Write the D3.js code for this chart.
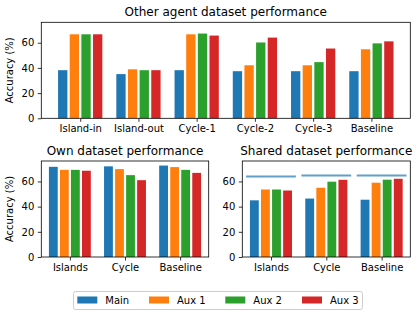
<!DOCTYPE html>
<html><head><meta charset="utf-8">
<script src="https://cdn.jsdelivr.net/npm/d3@7"></script>
<style>body{margin:0;background:#fff}svg{display:block;font-family:"DejaVu Sans",sans-serif}</style>
</head><body><svg id="c" width="419" height="316"></svg>
<script>
const seriesNames = ["Main", "Aux 1", "Aux 2", "Aux 3"];
const colors = ["#1f77b4", "#ff7f0e", "#2ca02c", "#d62728"];
const yTicks = [0, 20, 40, 60];

const otherCats = ["Island-in", "Island-out", "Cycle-1", "Cycle-2", "Cycle-3", "Baseline"];
const otherMain = [38.2, 35.1, 38.2, 37.4, 37.4, 37.4];
const otherAux1 = [66.7, 38.9, 66.7, 42.1, 42.1, 54.8];
const otherAux2 = [66.7, 38.2, 67.3, 60.2, 44.6, 59.5];
const otherAux3 = [66.7, 38.2, 65.7, 64.1, 55.4, 61.1];

const smallCats = ["Islands", "Cycle", "Baseline"];
const ownMain = [71.6, 72.0, 72.6];
const ownAux1 = [69.2, 69.8, 71.4];
const ownAux2 = [69.2, 65.0, 69.2];
const ownAux3 = [68.5, 61.0, 66.8];

const sharedMain = [45.0, 46.4, 45.5];
const sharedAux1 = [53.6, 55.0, 59.0];
const sharedAux2 = [53.6, 59.8, 61.4];
const sharedAux3 = [52.8, 61.3, 62.1];
const sharedRef = [64.0, 64.8, 64.8];

const svg = d3.select("#c");
const allVals = [].concat(otherMain, otherAux1, otherAux2, otherAux3, ownMain, ownAux1, ownAux2, ownAux3,
  sharedMain, sharedAux1, sharedAux2, sharedAux3, sharedRef);
const yMax = d3.max(allVals) * 1.05;

function panel(opt) {
  const {x0, x1, y0, y1, cats, series, title, ylabel, ref} = opt;
  const n = cats.length;
  const lo = -0.38, hi = n - 1 + 0.38, m = (hi - lo) * 0.05;
  const x = d3.scaleLinear().domain([lo - m, hi + m]).range([x0, x1]);
  const y = d3.scaleLinear().domain([0, yMax]).range([y1, y0]);
  const g = svg.append("g");
  const bw = 0.16, offs = [-0.3, -0.1, 0.1, 0.3];
  series.forEach((vals, si) => {
    g.selectAll(null).data(vals).enter().append("rect")
      .attr("x", (d, i) => x(i + offs[si] - bw / 2))
      .attr("width", (d, i) => x(i + offs[si] + bw / 2) - x(i + offs[si] - bw / 2))
      .attr("y", d => y(d))
      .attr("height", d => y(0) - y(d))
      .attr("fill", colors[si]);
  });
  if (ref) {
    g.selectAll(null).data(ref).enter().append("line")
      .attr("x1", (d, i) => x(i - 0.45)).attr("x2", (d, i) => x(i + 0.45))
      .attr("y1", d => y(d)).attr("y2", d => y(d))
      .attr("stroke", "#1f77b4").attr("stroke-opacity", 0.7).attr("stroke-width", 2);
  }
  const xa = d3.axisBottom(x).tickValues(d3.range(n)).tickFormat(i => cats[i]).tickSize(3.5).tickPadding(3.5);
  const ya = d3.axisLeft(y).tickValues(yTicks).tickSize(3.5).tickPadding(3.5);
  const gx = g.append("g").attr("transform", `translate(0,${y1})`).call(xa);
  const gy = g.append("g").attr("transform", `translate(${x0},0)`).call(ya);
  [gx, gy].forEach(a => {
    a.select(".domain").remove();
    a.selectAll("text").attr("font-size", 10).attr("font-family", "DejaVu Sans").attr("fill", "#000");
    a.selectAll("line").attr("stroke", "#000").attr("stroke-width", 0.8);
  });
  g.append("rect").attr("x", x0).attr("y", y0).attr("width", x1 - x0).attr("height", y1 - y0)
    .attr("fill", "none").attr("stroke", "#000").attr("stroke-width", 0.8);
  g.append("text").attr("x", (x0 + x1) / 2).attr("y", y0 - 6).attr("text-anchor", "middle")
    .attr("font-size", 12).attr("fill", "#000").text(title);
  if (ylabel) {
    g.append("text").attr("transform", `translate(${x0 - 28},${(y0 + y1) / 2}) rotate(-90)`)
      .attr("text-anchor", "middle").attr("font-size", 10).attr("fill", "#000").text(ylabel);
  }
}

panel({x0: 41.3, x1: 410.3, y0: 22.3, y1: 118.3, cats: otherCats,
  series: [otherMain, otherAux1, otherAux2, otherAux3], title: "Other agent dataset performance", ylabel: "Accuracy (%)"});
panel({x0: 41.3, x1: 208.7, y0: 161, y1: 257, cats: smallCats,
  series: [ownMain, ownAux1, ownAux2, ownAux3], title: "Own dataset performance", ylabel: "Accuracy (%)"});
panel({x0: 242.3, x1: 410.3, y0: 161, y1: 257, cats: smallCats,
  series: [sharedMain, sharedAux1, sharedAux2, sharedAux3], title: "Shared dataset performance", ref: sharedRef});

// legend
const lg = svg.append("g");
lg.append("rect").attr("x", 73.5).attr("y", 291.5).attr("width", 289).attr("height", 18).attr("rx", 2)
  .attr("fill", "#fff").attr("stroke", "#ccc").attr("stroke-width", 1);
const lx = [77.3, 149, 225.3, 302];
seriesNames.forEach((s, i) => {
  lg.append("rect").attr("x", lx[i]).attr("y", 296.5).attr("width", 20).attr("height", 7).attr("fill", colors[i]);
  lg.append("text").attr("x", lx[i] + 28).attr("y", 304).attr("font-size", 10).attr("fill", "#000").text(s);
});
</script></body></html>
